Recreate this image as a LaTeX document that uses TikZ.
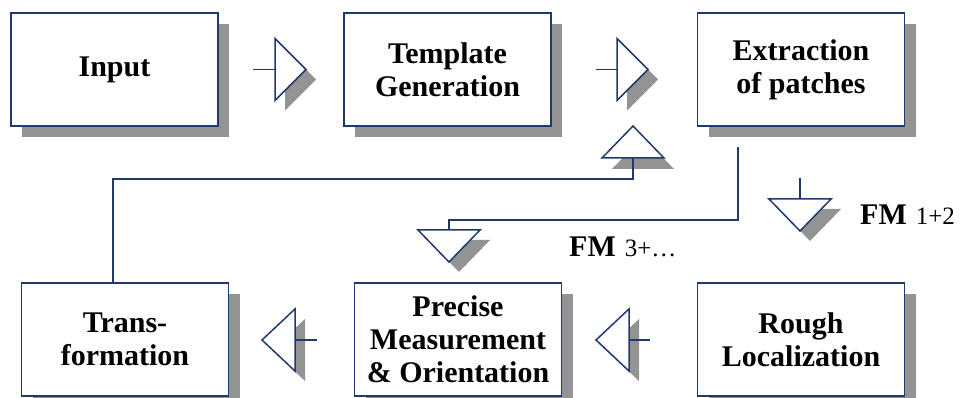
\documentclass[tikz,border=0pt]{standalone}
\usepackage{fontspec}
\setmainfont{Liberation Serif}
\usetikzlibrary{shadows}
\definecolor{navy}{HTML}{1F3A6E}
\definecolor{shadowgray}{HTML}{939393}
\newcommand\fmtext[1]{{\fontsize{30}{33}\selectfont\bfseries FM}\hspace{9pt}{\fontsize{25}{28}\selectfont #1}}
\tikzset{
  box/.style={draw=navy, line width=1.8pt, fill=white, minimum width=207pt,
    minimum height=113pt, inner sep=0pt, align=center,
    font=\fontsize{30}{33}\selectfont\bfseries,
    general shadow={fill=shadowgray, draw=none, shadow xshift=11pt, shadow yshift=-11pt}},
  tri/.style={draw=navy, line width=1.5pt, fill=white, line join=miter},
  trishadow/.style={fill=shadowgray, draw=none},
  conn/.style={draw=navy, line width=1.6pt},
  rtri/.pic={
    \path[trishadow] (10,-21) -- (10,41) -- (41,10) -- cycle;
    \draw[tri] (0,-31) -- (0,31) -- (31,0) -- cycle;
    \coordinate (-base) at (0,0);
  },
  ltri/.pic={
    \path[trishadow] (10,-21) -- (10,41) -- (-23,10) -- cycle;
    \draw[tri] (0,-31) -- (0,31) -- (-33,0) -- cycle;
    \coordinate (-base) at (0,0);
  },
  dtri/.pic={
    \path[trishadow] (-21,10) -- (41,10) -- (10,42) -- cycle;
    \draw[tri] (-31,0) -- (31,0) -- (0,32) -- cycle;
    \coordinate (-base) at (0,0);
  },
  utri/.pic={
    \path[trishadow] (-21,11) -- (41,11) -- (10,-21) -- cycle;
    \draw[tri] (-31,0) -- (31,0) -- (0,-32) -- cycle;
    \coordinate (-base) at (0,0);
  },
}
\begin{document}
\begin{tikzpicture}[x=1pt,y=-1pt]
\useasboundingbox (0,0) rectangle (964,398);

% boxes
\node[box] (input)    at (114.5,69.5) {Input};
\node[box] (template) at (447.5,69.5) {Template\\Generation};
\node[box] (extract)  at (801,69.5)   {Extraction\\of patches};
\node[box] (trans)    at (125,339.5)  {Trans-\\formation};
\node[box] (precise)  at (458,339.5)  {Precise\\Measurement\\\& Orientation};
\node[box] (rough)    at (801,339.5)  {Rough\\Localization};

% triangles
\pic (r1) at (275,69.5) {rtri};
\pic (r2) at (617,69.5) {rtri};
\pic (u1) at (633,158) {utri};
\pic (d1) at (449,230) {dtri};
\pic (d2) at (800,199) {dtri};
\pic (l1) at (629,340) {ltri};
\pic (l2) at (295,340) {ltri};

% stubs and connectors
\coordinate (s1) at (253,69.5);
\coordinate (s2) at (596,69.5);
\coordinate (s3) at (650,340);
\coordinate (s4) at (317,340);
\coordinate (s5) at (800,178);
\coordinate (exs) at (738,147);
\coordinate (loopc) at (633,179);

\draw[conn] (s1) -- (r1-base);
\draw[conn] (s2) -- (r2-base);
\draw[conn] (s3) -- (l1-base);
\draw[conn] (s4) -- (l2-base);
\draw[conn] (s5) -- (d2-base);
\draw[conn] ([xshift=-12pt]trans.north) |- (loopc) -- (u1-base);
\draw[conn] (exs) |- ([yshift=10pt]d1-base) -- (d1-base);

% labels
\node[anchor=base west, inner sep=0pt] (fm12) at (860,225) {\fmtext{1+2}};
\node[anchor=base west, inner sep=0pt] (fm3)  at (569,257) {\fmtext{3+\ldots}};
\end{tikzpicture}
\end{document}
